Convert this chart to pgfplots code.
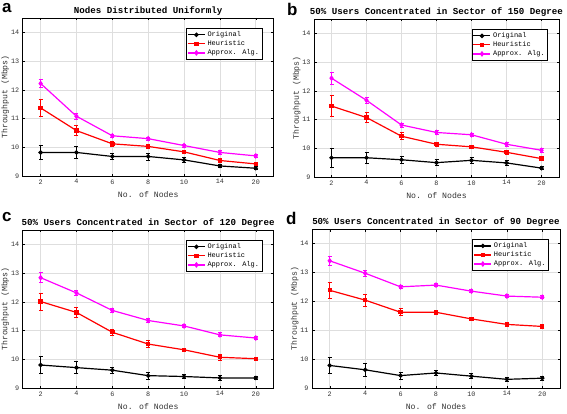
\documentclass[border=0pt]{standalone}
\usepackage{pgfplots}
\pgfplotsset{compat=1.18}
\usepackage{fontspec}
\setmainfont{Liberation Mono}
\newfontfamily\lettfont{Liberation Sans}
\definecolor{gridc}{gray}{0.87}
\definecolor{txtc}{gray}{0.2}
\definecolor{mag}{rgb}{1,0,1}
\pgfplotsset{
  panel/.style={
    scale only axis,
    anchor=south west,
    xmin=0.5, xmax=7.5, ymin=9, ymax=14.5,
    xtick={1,...,7}, xticklabels={2,4,6,8,10,14,20},
    ytick={9,10,11,12,13,14},
    grid=major, grid style={gridc, line width=0.6pt},
    tick align=inside, major tick length=2.5pt,
    tick style={black, line width=0.4pt},
    axis line style={black, line width=0.6pt},
    ticklabel style={font=\fontsize{6.8}{8}\selectfont, text=txtc},
    /pgf/number format/assume math mode=true,
    xlabel={No. of Nodes}, ylabel={Throughput (Mbps)},
    xlabel style={font=\fontsize{8.2}{10}\selectfont, text=txtc, yshift=-1pt},
    ylabel style={font=\fontsize{8.2}{9}\selectfont, text=txtc, yshift=-5pt},
    title style={font=\bfseries\fontsize{9.2}{10}\selectfont, yshift=-7pt},
    legend style={at={(0.955,0.935)}, anchor=north east, font=\fontsize{7}{8}\selectfont,
      draw=black, line width=0.6pt, inner sep=1pt, row sep=-1.5pt, cells={anchor=west}},
    legend cell align=left,
    error bars/y dir=both, error bars/y explicit,
    error bars/error mark options={rotate=90, mark size=2pt, line width=0.8pt},
    error bars/error bar style={line width=0.8pt},
  },
  orig/.style={black, line width=1.2pt, mark=*, mark size=1.6pt, mark options={solid}},
  heur/.style={red, line width=1.2pt, mark=square*, mark size=1.6pt, mark options={solid}},
  appr/.style={mag, line width=1.2pt, mark=diamond*, mark size=2pt, mark options={solid}},
}
\begin{document}
\begin{tikzpicture}[x=1bp,y=1bp]
\useasboundingbox (0,0) rectangle (567,413);
% Panel a
\begin{axis}[panel, at={(22.7bp,237bp)}, width=251bp, height=158bp,
  title={Nodes Distributed Uniformly}]
\addplot+[orig, error bars/.cd, error bar style={black}] coordinates {
(1,9.82) +- (0,0.25) (2,9.82) +- (0,0.2) (3,9.68) +- (0,0.1) (4,9.68) +- (0,0.12)
(5,9.56) +- (0,0.08) (6,9.35) +- (0,0.05) (7,9.27) +- (0,0.05)};
\addlegendentry{Original}
\addplot+[heur, error bars/.cd, error bar style={red}] coordinates {
(1,11.37) +- (0,0.28) (2,10.58) +- (0,0.18) (3,10.12) +- (0,0.1) (4,10.03) +- (0,0.08)
(5,9.84) +- (0,0.06) (6,9.54) +- (0,0.06) (7,9.42) +- (0,0.04)};
\addlegendentry{Heuristic}
\addplot+[appr, error bars/.cd, error bar style={mag}] coordinates {
(1,12.22) +- (0,0.15) (2,11.08) +- (0,0.1) (3,10.40) +- (0,0.06) (4,10.30) +- (0,0.05)
(5,10.06) +- (0,0.05) (6,9.82) +- (0,0.06) (7,9.70) +- (0,0.05)};
\addlegendentry{Approx. Alg.}
\end{axis}
% Panel b
\begin{axis}[panel, at={(314bp,236bp)}, width=245bp, height=158bp,
  title={50\% Users Concentrated in Sector of 150 Degree}]
\addplot+[orig, error bars/.cd, error bar style={black}] coordinates {
(1,9.67) +- (0,0.33) (2,9.67) +- (0,0.2) (3,9.60) +- (0,0.12) (4,9.50) +- (0,0.1)
(5,9.58) +- (0,0.1) (6,9.49) +- (0,0.08) (7,9.31) +- (0,0.06)};
\addlegendentry{Original}
\addplot+[heur, error bars/.cd, error bar style={red}] coordinates {
(1,11.47) +- (0,0.36) (2,11.07) +- (0,0.18) (3,10.42) +- (0,0.12) (4,10.14) +- (0,0.07)
(5,10.05) +- (0,0.05) (6,9.86) +- (0,0.08) (7,9.64) +- (0,0.07)};
\addlegendentry{Heuristic}
\addplot+[appr, error bars/.cd, error bar style={mag}] coordinates {
(1,12.44) +- (0,0.2) (2,11.67) +- (0,0.1) (3,10.81) +- (0,0.07) (4,10.55) +- (0,0.06)
(5,10.47) +- (0,0.05) (6,10.14) +- (0,0.07) (7,9.93) +- (0,0.06)};
\addlegendentry{Approx. Alg.}
\end{axis}
% Panel c
\begin{axis}[panel, at={(22.7bp,25bp)}, width=251bp, height=158bp,
  title={50\% Users Concentrated in Sector of 120 Degree}]
\addplot+[orig, error bars/.cd, error bar style={black}] coordinates {
(1,9.80) +- (0,0.3) (2,9.71) +- (0,0.2) (3,9.62) +- (0,0.1) (4,9.43) +- (0,0.12)
(5,9.40) +- (0,0.07) (6,9.35) +- (0,0.09) (7,9.35) +- (0,0.05)};
\addlegendentry{Original}
\addplot+[heur, error bars/.cd, error bar style={red}] coordinates {
(1,12.01) +- (0,0.3) (2,11.63) +- (0,0.18) (3,10.94) +- (0,0.1) (4,10.53) +- (0,0.12)
(5,10.33) +- (0,0.06) (6,10.07) +- (0,0.1) (7,10.02) +- (0,0.06)};
\addlegendentry{Heuristic}
\addplot+[appr, error bars/.cd, error bar style={mag}] coordinates {
(1,12.84) +- (0,0.18) (2,12.31) +- (0,0.08) (3,11.70) +- (0,0.06) (4,11.35) +- (0,0.06)
(5,11.16) +- (0,0.06) (6,10.85) +- (0,0.07) (7,10.74) +- (0,0.06)};
\addlegendentry{Approx. Alg.}
\end{axis}
% Panel d
\begin{axis}[panel, at={(312bp,25bp)}, width=248bp, height=159bp,
  title={50\% Users Concentrated in Sector of 90 Degree}]
\addplot+[orig, error bars/.cd, error bar style={black}] coordinates {
(1,9.78) +- (0,0.28) (2,9.63) +- (0,0.22) (3,9.43) +- (0,0.12) (4,9.52) +- (0,0.1)
(5,9.41) +- (0,0.08) (6,9.30) +- (0,0.06) (7,9.34) +- (0,0.07)};
\addlegendentry{Original}
\addplot+[heur, error bars/.cd, error bar style={red}] coordinates {
(1,12.38) +- (0,0.27) (2,12.04) +- (0,0.2) (3,11.62) +- (0,0.12) (4,11.62) +- (0,0.08)
(5,11.39) +- (0,0.05) (6,11.20) +- (0,0.07) (7,11.13) +- (0,0.06)};
\addlegendentry{Heuristic}
\addplot+[appr, error bars/.cd, error bar style={mag}] coordinates {
(1,13.40) +- (0,0.16) (2,12.97) +- (0,0.1) (3,12.50) +- (0,0.06) (4,12.56) +- (0,0.05)
(5,12.35) +- (0,0.06) (6,12.18) +- (0,0.05) (7,12.14) +- (0,0.05)};
\addlegendentry{Approx. Alg.}
\end{axis}
\node[font=\lettfont\bfseries\fontsize{17}{17}\selectfont, anchor=north west, inner sep=0pt] at (2,410) {a};
\node[font=\lettfont\bfseries\fontsize{17}{17}\selectfont, anchor=north west, inner sep=0pt] at (287,410) {b};
\node[font=\lettfont\bfseries\fontsize{17}{17}\selectfont, anchor=north west, inner sep=0pt] at (2,201) {c};
\node[font=\lettfont\bfseries\fontsize{17}{17}\selectfont, anchor=north west, inner sep=0pt] at (286,201) {d};
\end{tikzpicture}
\end{document}
